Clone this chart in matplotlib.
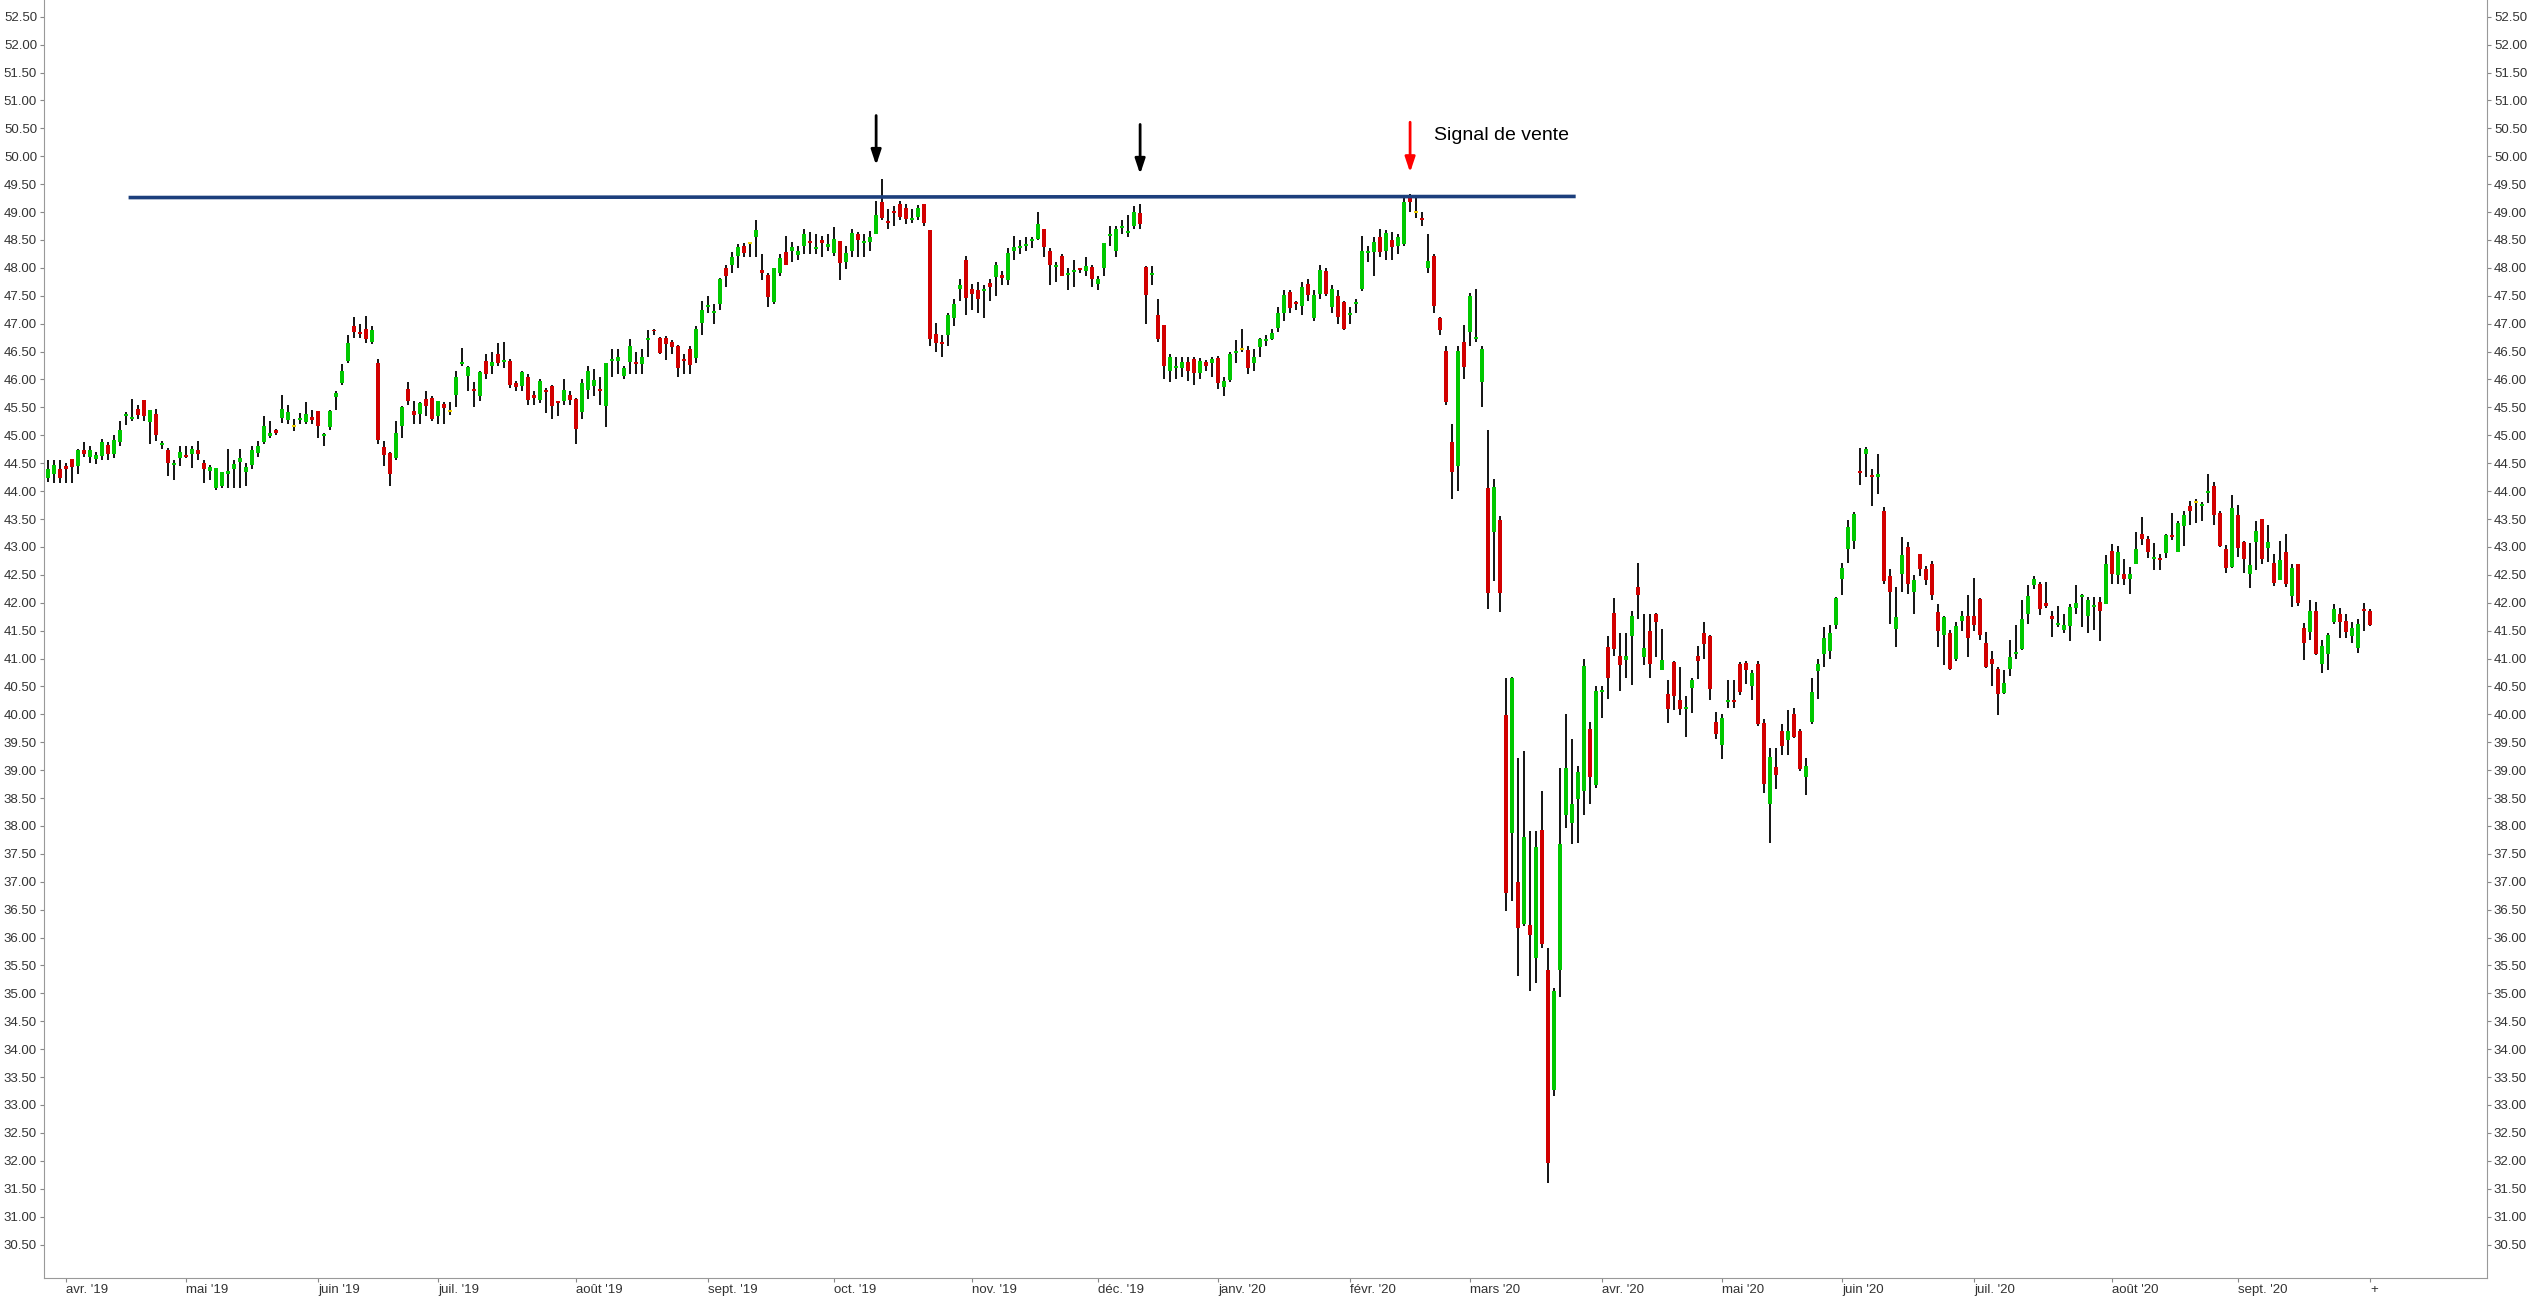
import matplotlib
matplotlib.use("Agg")
import matplotlib.pyplot as plt
import numpy as np
import pandas as pd

plt.rcParams['font.family'] = ['Liberation Sans Narrow', 'Liberation Sans', 'DejaVu Sans']

# daily OHLC (first candle 27 mars 2019)
opens = [44.23,44.30,44.40,44.45,44.58,44.45,44.73,44.61,44.57,44.63,44.82,44.67,44.88,45.34,45.30,45.48,45.63,45.24,45.39,44.83,
44.73,44.46,44.60,44.65,44.66,44.73,44.51,44.36,44.06,44.10,44.31,44.40,44.52,44.34,44.47,44.68,44.88,44.99,45.09,45.31,
45.28,45.15,45.28,45.24,45.33,45.43,44.99,45.15,45.69,45.93,46.34,46.95,46.84,46.91,46.67,46.29,44.79,44.68,44.59,45.17,
45.83,45.43,45.39,45.65,45.67,45.35,45.56,45.42,45.73,46.27,46.06,45.83,45.70,46.34,46.24,46.45,46.31,46.34,45.94,45.88,
46.05,45.73,45.63,45.80,45.88,45.61,45.61,45.72,45.65,45.42,45.81,45.88,45.82,45.52,46.33,46.34,46.06,46.31,46.29,46.27,
46.70,46.88,46.75,46.74,46.68,46.60,46.36,46.55,46.39,47.01,47.30,47.19,47.36,48.00,48.06,48.21,48.40,48.43,48.55,47.96,
47.87,47.39,47.91,48.29,48.30,48.23,48.39,48.48,48.33,48.50,48.38,48.27,48.48,48.10,48.31,48.60,48.44,48.46,48.61,49.18,
48.83,49.01,49.14,49.08,48.85,48.91,49.14,48.67,46.82,46.66,46.79,47.10,47.62,48.14,47.62,47.60,47.59,47.73,47.83,47.88,
47.78,48.30,48.36,48.40,48.48,48.52,48.69,48.31,48.02,48.21,47.87,47.92,47.99,47.95,48.02,47.71,48.00,48.57,48.31,48.72,
48.63,48.75,48.99,48.02,47.88,47.15,46.97,46.15,46.21,46.21,46.31,46.36,46.12,46.31,46.30,46.39,45.87,45.99,46.48,46.53,
46.52,46.30,46.58,46.69,46.73,46.92,47.20,47.56,47.36,47.32,47.72,47.10,47.54,47.94,47.30,47.50,47.38,47.16,47.35,47.63,
48.26,48.28,48.55,48.30,48.50,48.39,48.42,49.27,48.98,48.87,48.00,48.21,47.10,46.51,44.88,44.45,46.68,46.85,46.73,45.95,
44.05,43.26,43.48,39.99,37.88,36.99,36.25,36.22,35.64,37.93,35.42,33.27,35.41,38.19,38.06,38.48,38.63,39.74,38.74,40.40,
41.20,41.82,41.05,40.97,41.40,42.29,41.03,41.49,41.80,40.80,40.37,40.94,40.25,40.09,40.48,41.05,41.45,41.40,39.87,39.45,
40.22,40.24,40.90,40.92,40.50,40.90,39.85,38.40,39.05,39.70,39.54,40.00,39.70,38.88,39.87,40.77,41.09,41.14,41.60,42.42,
42.97,43.11,44.34,44.66,44.28,44.26,43.65,42.48,41.53,42.51,43.00,42.20,42.88,42.60,42.69,41.83,41.42,41.45,40.99,41.68,
41.77,41.77,42.06,41.28,40.99,40.82,40.39,40.82,41.08,41.17,41.79,42.31,42.33,42.00,41.77,41.60,41.51,41.59,41.91,42.11,
41.77,41.93,42.01,41.98,42.92,42.50,42.51,42.43,42.70,43.24,43.15,42.79,42.78,42.89,43.21,42.91,43.38,43.73,43.79,43.74,
43.97,44.09,43.61,42.97,42.64,43.58,43.08,42.52,43.09,43.50,42.98,42.72,42.40,42.91,42.12,42.69,41.55,41.48,41.86,40.91,
41.08,41.66,41.80,41.68,41.40,41.19,41.89,41.85]
highs = [44.55,44.55,44.55,44.50,44.58,44.75,44.88,44.80,44.70,44.93,44.88,45.00,45.25,45.42,45.65,45.55,45.63,45.45,45.47,44.90,
44.78,44.55,44.80,44.80,44.80,44.90,44.55,44.47,44.40,44.35,44.75,44.55,44.75,44.50,44.80,44.90,45.35,45.25,45.12,45.72,
45.55,45.30,45.40,45.60,45.45,45.43,45.05,45.45,45.80,46.28,46.80,47.12,47.00,47.13,46.95,46.37,44.90,44.70,45.25,45.52,
45.95,45.62,45.60,45.80,45.70,45.62,45.60,45.60,46.15,46.56,46.25,45.95,46.15,46.45,46.50,46.65,46.67,46.36,45.98,46.15,
46.10,45.80,46.00,45.85,45.90,45.62,46.00,45.80,45.67,46.00,46.25,46.18,46.05,46.30,46.55,46.55,46.25,46.72,46.50,46.55,
46.88,46.90,46.77,46.78,46.70,46.62,46.45,46.60,46.96,47.40,47.50,47.35,47.81,48.05,48.28,48.42,48.45,48.45,48.85,48.25,
47.90,48.00,48.25,48.57,48.46,48.40,48.70,48.65,48.60,48.58,48.60,48.73,48.48,48.40,48.70,48.65,48.60,48.66,49.20,49.59,
49.05,49.10,49.20,49.15,49.05,49.12,49.15,48.67,47.02,46.80,47.20,47.45,47.80,48.22,47.72,47.75,47.70,47.80,48.10,47.95,
48.35,48.57,48.50,48.55,48.55,49.00,48.70,48.35,48.10,48.25,48.00,48.15,48.00,48.20,48.05,47.85,48.45,48.75,48.75,48.85,
48.95,49.10,49.15,48.04,48.04,47.45,46.98,46.45,46.40,46.40,46.40,46.40,46.38,46.35,46.40,46.42,46.05,46.50,46.70,46.90,
46.60,46.55,46.75,46.80,46.90,47.30,47.60,47.60,47.40,47.75,47.80,47.60,48.05,48.00,47.70,47.60,47.40,47.30,47.45,48.58,
48.40,48.55,48.70,48.68,48.65,48.60,49.25,49.32,49.30,49.00,48.60,48.25,47.12,46.60,45.20,46.60,46.98,47.55,47.63,46.60,
45.09,44.22,43.55,40.65,40.67,39.22,39.34,37.91,37.91,38.62,35.82,35.10,39.03,40.00,39.56,39.07,41.00,39.86,40.50,40.50,
41.40,42.08,41.45,41.45,41.85,42.71,41.80,41.80,41.82,41.53,40.62,40.96,40.85,40.33,40.65,41.22,41.65,41.42,40.05,40.00,
40.61,40.61,40.94,40.96,40.80,40.96,39.91,39.39,39.39,39.82,40.08,40.11,39.74,39.21,40.65,41.00,41.56,41.60,42.10,42.71,
43.48,43.63,44.77,44.79,44.40,44.66,43.72,42.60,42.28,43.17,43.08,42.50,42.88,42.66,42.75,41.97,41.76,41.51,41.65,41.85,
42.14,42.45,42.08,41.48,41.13,40.85,40.79,41.34,41.60,42.05,42.31,42.48,42.37,42.37,41.85,41.94,41.80,41.97,42.31,42.16,
42.10,42.10,42.10,42.85,43.06,43.01,42.78,42.64,43.27,43.54,43.19,43.07,42.88,43.24,43.60,43.46,43.64,43.83,43.85,43.80,
44.30,44.16,43.64,43.03,43.93,43.75,43.10,43.07,43.46,43.50,43.40,42.88,43.11,43.24,42.70,42.70,41.64,42.05,42.02,41.34,
41.46,41.97,41.91,41.79,41.66,41.70,41.99,41.89]
lows = [44.17,44.15,44.15,44.15,44.15,44.30,44.62,44.50,44.48,44.55,44.55,44.60,44.80,45.18,45.25,45.30,45.25,44.85,44.90,44.75,
44.27,44.20,44.45,44.60,44.42,44.55,44.15,44.20,44.02,44.05,44.05,44.05,44.05,44.10,44.40,44.62,44.85,44.95,45.00,45.22,
45.20,45.08,45.20,45.20,45.20,44.95,44.80,45.10,45.45,45.90,46.30,46.75,46.75,46.65,46.63,44.85,44.45,44.10,44.55,44.95,
45.55,45.20,45.20,45.35,45.25,45.20,45.20,45.37,45.50,46.24,45.80,45.50,45.62,46.00,46.10,46.25,46.20,45.85,45.80,45.80,
45.55,45.55,45.58,45.40,45.30,45.35,45.55,45.55,44.85,45.30,45.65,45.70,45.55,45.15,46.05,46.10,46.00,46.10,46.10,46.10,
46.40,46.80,46.45,46.35,46.45,46.05,46.10,46.10,46.30,46.80,47.20,46.99,47.25,47.65,47.90,48.00,48.20,48.20,48.20,47.78,
47.30,47.35,47.85,48.05,48.10,48.15,48.25,48.25,48.25,48.20,48.30,48.22,47.78,47.98,48.20,48.20,48.20,48.30,48.60,48.85,
48.70,48.75,48.85,48.78,48.80,48.85,48.75,46.60,46.50,46.40,46.60,46.95,47.40,47.15,47.25,47.20,47.10,47.40,47.50,47.70,
47.70,48.15,48.25,48.30,48.35,48.50,48.20,47.70,47.75,47.85,47.60,47.65,47.90,47.85,47.65,47.60,47.85,48.40,48.20,48.60,
48.55,48.70,48.70,47.00,47.70,46.68,46.00,45.95,46.00,46.05,45.98,45.90,46.00,46.15,46.05,45.83,45.70,45.95,46.30,46.50,
46.10,46.15,46.40,46.60,46.70,46.85,47.05,47.20,47.25,47.15,47.40,47.05,47.45,47.50,47.20,47.00,46.88,47.00,47.20,47.58,
48.10,47.85,48.20,48.15,48.15,48.25,48.40,49.00,48.90,48.75,47.90,47.20,46.80,45.55,43.85,44.00,46.00,46.60,46.67,45.50,
41.88,42.39,41.83,36.48,36.65,35.31,36.20,35.05,35.18,35.82,31.61,33.16,34.93,37.96,37.68,37.70,38.19,38.39,38.68,39.93,
40.27,41.05,40.42,40.65,40.53,41.71,40.88,40.65,41.03,40.79,39.85,40.08,39.99,39.59,40.02,40.63,40.99,40.25,39.56,39.20,
40.11,40.11,40.35,40.54,40.25,39.79,38.59,37.70,38.67,39.28,39.28,39.57,38.99,38.56,39.82,40.28,40.85,41.00,41.53,42.14,
42.71,42.97,44.11,44.26,43.74,43.95,42.34,41.62,41.20,42.20,42.16,41.79,42.48,42.32,42.05,41.20,40.88,40.79,40.96,41.49,
41.03,41.49,41.34,40.83,40.50,39.99,40.37,40.68,40.99,41.15,41.62,42.25,41.78,41.91,41.39,41.56,41.45,41.31,41.80,41.56,
41.45,41.51,41.32,41.97,42.34,42.33,42.32,42.16,42.69,43.04,42.80,42.59,42.59,42.80,43.13,42.90,43.02,43.40,43.42,43.46,
43.78,43.40,42.99,42.53,42.63,42.82,42.53,42.26,42.59,42.70,42.73,42.30,42.40,42.29,41.92,41.94,40.98,41.34,41.06,40.74,
40.80,41.62,41.37,41.37,41.27,41.10,41.50,41.59]
closes = [44.40,44.47,44.23,44.40,44.43,44.73,44.67,44.74,44.64,44.88,44.67,44.91,45.09,45.37,45.32,45.37,45.35,45.45,45.00,44.86,
44.50,44.51,44.70,44.62,44.75,44.66,44.39,44.43,44.42,44.34,44.36,44.49,44.59,44.43,44.73,44.81,45.17,45.04,45.05,45.48,
45.42,45.15,45.30,45.39,45.27,45.17,45.02,45.43,45.76,46.15,46.66,46.85,46.82,46.72,46.88,44.91,44.64,44.30,45.04,45.51,
45.61,45.36,45.58,45.53,45.29,45.61,45.49,45.42,46.05,46.30,46.22,45.80,46.13,46.09,46.31,46.30,46.34,45.90,45.87,46.13,
45.63,45.67,45.97,45.78,45.53,45.58,45.82,45.63,45.11,45.93,46.15,45.99,45.79,46.30,46.36,46.41,46.21,46.60,46.27,46.41,
46.73,46.86,46.47,46.64,46.58,46.20,46.34,46.26,46.91,47.24,47.32,47.21,47.80,47.86,48.19,48.37,48.27,48.43,48.67,47.90,
47.48,48.00,48.18,48.06,48.37,48.30,48.61,48.44,48.37,48.44,48.42,48.52,48.09,48.27,48.63,48.50,48.46,48.56,48.94,48.90,
48.81,48.99,48.91,48.88,48.87,49.08,48.81,46.73,46.65,46.64,47.16,47.35,47.69,47.46,47.54,47.45,47.61,47.66,48.05,47.81,
48.26,48.37,48.38,48.42,48.50,48.78,48.37,48.05,48.04,47.86,47.89,47.94,47.97,48.03,47.80,47.80,48.45,48.59,48.69,48.74,
48.65,49.00,48.78,47.51,47.90,46.72,46.24,46.40,46.23,46.31,46.16,46.12,46.33,46.24,46.36,45.94,45.97,46.45,46.50,46.53,
46.20,46.40,46.72,46.72,46.83,47.20,47.52,47.29,47.35,47.66,47.52,47.52,47.97,47.54,47.62,47.12,46.90,47.19,47.37,48.31,
48.28,48.46,48.28,48.63,48.37,48.55,49.18,49.18,48.98,48.86,48.12,47.32,46.88,45.60,44.34,46.51,46.22,47.50,46.75,46.54,
42.17,44.08,42.17,36.80,40.65,36.17,37.81,36.05,37.62,35.88,31.96,35.04,37.68,39.03,38.39,38.97,40.86,38.88,40.42,40.42,
40.65,41.17,40.88,41.05,41.77,42.14,41.19,40.90,41.66,40.97,40.10,40.33,40.10,40.11,40.62,40.96,41.26,40.46,39.64,39.94,
40.24,40.22,40.40,40.79,40.74,39.83,38.76,39.24,38.91,39.43,39.70,39.60,39.02,39.07,40.40,40.90,41.37,41.45,42.08,42.63,
43.36,43.59,44.33,44.75,44.26,44.31,42.39,42.20,41.74,42.85,42.33,42.40,42.60,42.40,42.14,41.49,41.74,40.82,41.59,41.77,
41.37,41.60,41.42,40.85,40.90,40.37,40.57,41.03,41.09,41.71,42.12,42.42,41.88,41.95,41.70,41.61,41.60,41.93,41.99,42.12,
42.05,41.94,41.86,42.70,42.52,42.90,42.43,42.52,42.97,43.15,42.91,42.80,42.76,43.21,43.18,43.43,43.58,43.64,43.79,43.76,
43.99,43.58,43.02,42.62,43.70,42.98,42.78,42.67,43.28,42.78,43.08,42.35,42.77,42.33,42.63,41.99,41.28,41.86,41.08,41.22,
41.43,41.89,41.65,41.48,41.55,41.62,41.85,41.60]

holidays = ['2019-04-19', '2019-04-22', '2019-05-01', '2019-12-25', '2019-12-26',
            '2020-01-01', '2020-04-10', '2020-04-13', '2020-05-01']
mois = ['janv.', 'févr.', 'mars', 'avr.', 'mai', 'juin', 'juil.', 'août', 'sept.', 'oct.', 'nov.', 'déc.']

resistance = 49.26
arrow_idx = [138, 182, 227]   # bougies visées par les flèches

o = np.array(opens); h = np.array(highs); l = np.array(lows); c = np.array(closes)
n = len(c)
dates = pd.bdate_range('2019-03-27', periods=n, freq='C', holidays=holidays)
x = np.arange(n)

fig = plt.figure(figsize=(25.31, 12.97), dpi=100)
ax = fig.add_axes([44/2531, 19/1297, (2487-44)/2531, 1 - 19/1297])

col = np.where(c > o, '#00c800', np.where(c < o, '#d20000', '#f0d000'))
ax.vlines(x, l, h, color='black', linewidth=1.3, zorder=1)
bot = np.minimum(o, c)
hgt = np.maximum(np.abs(c - o), 0.035)
ax.bar(x, hgt, bottom=bot, width=0.75, color=col, linewidth=0, zorder=2)

# ligne de résistance
ax.plot([13.7, 254.3], [resistance, resistance + 0.02], color='#1c3f7c', linewidth=2.6, zorder=3)

# flèches
tops = [50.73, 50.57, 50.61]
tips = [49.84, 49.68, 49.71]
for i, k in enumerate(arrow_idx):
    clr = 'red' if i == 2 else 'black'
    ax.annotate('', xy=(k, tips[i]), xytext=(k, tops[i]),
                arrowprops=dict(arrowstyle='-|>,head_width=0.3,head_length=0.9',
                                color=clr, linewidth=2.0, shrinkA=0, shrinkB=0))
ax.text(arrow_idx[2] + 4, 50.38, 'Signal de vente', fontsize=14, va='center', ha='left',
        family=['Liberation Sans', 'DejaVu Sans'])

ax.set_xlim(-0.7, (2487 - 48) / 6)
ax.set_ylim(29.9, 52.8)

yt = np.arange(30.5, 52.51, 0.5)
ax.set_yticks(yt)
ax.set_yticklabels(['%.2f' % v for v in yt])
ax.tick_params(axis='y', which='both', left=True, right=True, labelleft=True, labelright=True,
               labelsize=9.5, labelcolor='#333333', color='#888888', length=3, pad=2, direction='out')

months = pd.Series(dates).dt.to_period('M')
first = np.where(months.values[1:] != months.values[:-1])[0] + 1
first = first[first < n - 5]
labels = ["%s '%s" % (mois[dates[k].month - 1], str(dates[k].year)[2:]) for k in first]
ax.set_xticks(list(first) + [n - 1])
ax.set_xticklabels(labels + ['+'], ha='left')
ax.tick_params(axis='x', labelsize=9.5, labelcolor='#333333', color='#888888', length=3, pad=1,
               direction='out')

for s in ['left', 'right', 'bottom']:
    ax.spines[s].set_color('#999999')
ax.spines['top'].set_visible(False)

fig.savefig('out.png', dpi=100)
